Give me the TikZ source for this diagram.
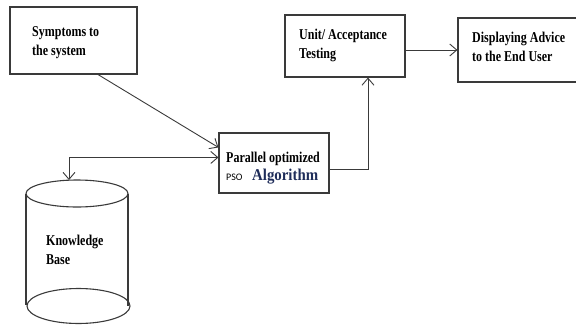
\documentclass[tikz,border=0pt]{standalone}
\usepackage{fontspec}
\setmainfont{Liberation Serif}[FakeStretch=0.8]
\newfontfamily\psofont{Carlito}
\newfontfamily\algfont{Liberation Serif}[FakeStretch=0.9]
\usetikzlibrary{arrows.meta}
\definecolor{ln}{HTML}{3A3A3A}
\definecolor{navy}{HTML}{1F2D5A}
\begin{document}
\begin{tikzpicture}[x=1pt,y=-1pt,
  box/.style={draw=ln, line width=1.1pt, rectangle, inner sep=0pt},
  lbl/.style={anchor=base west, align=left, inner sep=0pt, font=\bfseries\fontsize{15}{19}\selectfont},
  barb/.tip={Straight Barb[length=7pt,width=12pt]},
  conn/.style={draw=ln, line width=0.9pt, -barb}]
\useasboundingbox (0,0) rectangle (576,327);
\clip (0,0) rectangle (576,327);
% boxes
\node[box, minimum width=127pt, minimum height=67pt] (sym) at (73.5,40.5) {};
\node[box, minimum width=110pt, minimum height=60pt] (pso) at (274,163) {};
\node[box, minimum width=120pt, minimum height=62pt] (unit) at (345,46) {};
\node[box, minimum width=124pt, minimum height=64pt] (disp) at (520,50) {};
% texts (base = baseline of last line)
\node[lbl] (symt) at (32,55) {Symptoms to\\the system};
\node[lbl] (unitt) at (299,58) {Unit/ Acceptance\\Testing};
\node[lbl] (dispt) at (472,61) {Displaying Advice\\to the End User};
\node[lbl] (psot) at (226,162) {Parallel optimized};
\node[anchor=base west, inner sep=0pt, font=\psofont\fontsize{10}{12}\selectfont] (psol) at (226,180) {PSO};
\node[anchor=base west, inner sep=0pt, text=navy, font=\algfont\bfseries\fontsize{16.5}{18}\selectfont] (alg) at (252,180) {Algorithm};
\node[lbl] (kbt) at (46,264) {Knowledge\\Base};
% knowledge base cylinder
\draw[ln, line width=1.1pt] (77,193.5) ellipse [x radius=51, y radius=13.5];
\draw[ln, line width=1.1pt] (26,193.5) -- (26,305) (128,193.5) -- (128,306);
\draw[ln, line width=1.1pt] (78.5,306) ellipse [x radius=51.5, y radius=17.5];
\coordinate (kbtop) at (69,180);
% connectors
\draw[conn] ([xshift=24.5pt]sym.south) -- ([yshift=-15pt]pso.north west);
\draw[conn, barb-barb] ([yshift=-25pt]pso.north west) -| (kbtop);
\draw[conn] ([yshift=-6pt]pso.east) -| ([xshift=23pt]unit.south);
\draw[conn] ([yshift=-4pt]unit.east) -- (disp.west);
\end{tikzpicture}
\end{document}
